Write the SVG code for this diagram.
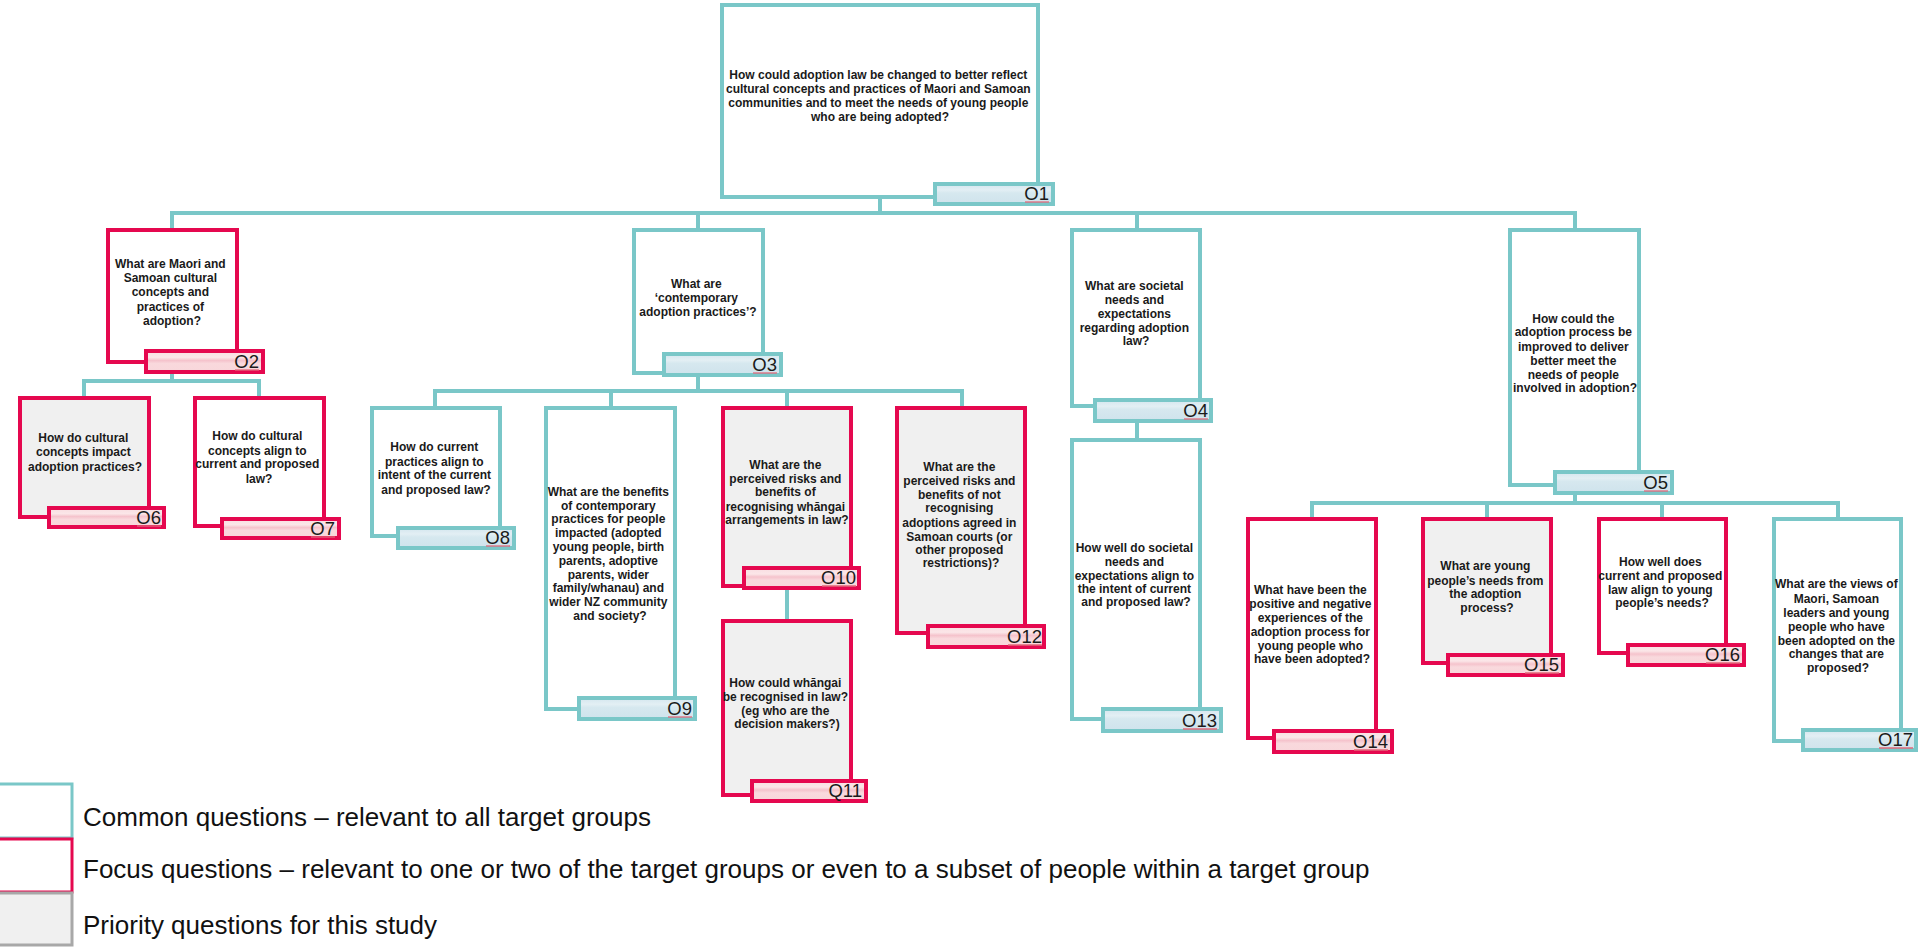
<svg xmlns="http://www.w3.org/2000/svg" width="1919" height="947" viewBox="0 0 1919 947">
  <defs>
    <linearGradient id="tagBlue" x1="0" y1="0" x2="0" y2="1">
      <stop offset="0" stop-color="#d3e6ee"/>
      <stop offset="0.3" stop-color="#e3eff4"/>
      <stop offset="0.45" stop-color="#d6e8ef"/>
      <stop offset="1" stop-color="#cfe3ec"/>
    </linearGradient>
    <linearGradient id="tagPink" x1="0" y1="0" x2="0" y2="1">
      <stop offset="0" stop-color="#f9dde1"/>
      <stop offset="0.3" stop-color="#fbe6e8"/>
      <stop offset="0.45" stop-color="#f5c3cc"/>
      <stop offset="0.6" stop-color="#f9d9dd"/>
      <stop offset="1" stop-color="#f8d6da"/>
    </linearGradient>
    <style>
      .box { fill: #ffffff; stroke-width: 4; }
      .common .box { stroke: #7ac7c8; }
      .focus .box { stroke: #e5084f; }
      .priority .box { fill: #f0f0f0; }
      .tag { stroke-width: 4; }
      .common .tag { fill: url(#tagBlue); stroke: #7ac7c8; }
      .focus .tag { fill: url(#tagPink); stroke: #e5084f; }
      .q { font-family: "Liberation Sans", Arial, sans-serif; font-size: 12px; font-weight: bold; fill: #1a1a1a; text-anchor: middle; }
      .id { font-family: "Liberation Sans", Arial, sans-serif; font-size: 18.5px; fill: #1a1a1a; text-anchor: end; }
      .spell { stroke: #e2687a; stroke-width: 1.3; }
      .link { fill: none; stroke: #7ac7c8; stroke-width: 4; }
      .legend-text { font-family: "Liberation Sans", Arial, sans-serif; font-size: 26px; fill: #111111; }
    </style>
  </defs>

  <rect width="1919" height="947" fill="#ffffff"/>

  <!-- tree connectors -->
  <g id="connectors" class="link">
    <path d="M880 197 V213"/>
    <path d="M172 230 V213 H1575 V230"/>
    <path d="M698 213 V230"/>
    <path d="M1137 213 V230"/>
    <path d="M172 374 V381"/>
    <path d="M84 398 V381 H259 V398"/>
    <path d="M698 377 V391"/>
    <path d="M435 408 V391 H962 V408"/>
    <path d="M611 391 V408"/>
    <path d="M787 391 V408"/>
    <path d="M787 590 V621"/>
    <path d="M1137 423 V440"/>
    <path d="M1575 495 V503"/>
    <path d="M1312 519 V503 H1838 V519"/>
    <path d="M1487 503 V519"/>
    <path d="M1662 503 V519"/>
  </g>

  <g id="node-O1" class="node common">
    <rect class="box" x="722" y="5" width="316" height="192"/>
    <text class="q">
      <tspan x="880" y="79">How could adoption law be changed to better reflect</tspan>
      <tspan x="880" y="93">cultural concepts and practices of Maori and Samoan</tspan>
      <tspan x="880" y="107">communities and to meet the needs of young people</tspan>
      <tspan x="880" y="121">who are being adopted?</tspan>
    </text>
    <rect class="tag" x="935" y="184" width="118" height="20"/>
    <text class="id" x="1049" y="200">O1</text>
    <line class="spell" x1="1025" y1="202" x2="1049" y2="202"/>
  </g>

  <g id="node-O2" class="node focus">
    <rect class="box" x="108" y="230" width="129" height="132"/>
    <text class="q">
      <tspan x="172" y="268">What are Maori and</tspan>
      <tspan x="172" y="282">Samoan cultural</tspan>
      <tspan x="172" y="296">concepts and</tspan>
      <tspan x="172" y="311">practices of</tspan>
      <tspan x="172" y="325">adoption?</tspan>
    </text>
    <rect class="tag" x="146" y="351" width="117" height="21"/>
    <text class="id" x="259" y="368">O2</text>
    <line class="spell" x1="235" y1="370" x2="259" y2="370"/>
  </g>

  <g id="node-O3" class="node common">
    <rect class="box" x="634" y="230" width="129" height="143"/>
    <text class="q">
      <tspan x="698" y="288">What are</tspan>
      <tspan x="698" y="302">‘contemporary</tspan>
      <tspan x="698" y="316">adoption practices’?</tspan>
    </text>
    <rect class="tag" x="664" y="354" width="117" height="21"/>
    <text class="id" x="777" y="371">O3</text>
    <line class="spell" x1="753" y1="373" x2="777" y2="373"/>
  </g>

  <g id="node-O4" class="node common">
    <rect class="box" x="1072" y="230" width="128" height="176"/>
    <text class="q">
      <tspan x="1136" y="290">What are societal</tspan>
      <tspan x="1136" y="304">needs and</tspan>
      <tspan x="1136" y="318">expectations</tspan>
      <tspan x="1136" y="332">regarding adoption</tspan>
      <tspan x="1136" y="345">law?</tspan>
    </text>
    <rect class="tag" x="1095" y="400" width="116" height="21"/>
    <text class="id" x="1208" y="417">O4</text>
    <line class="spell" x1="1184" y1="419" x2="1208" y2="419"/>
  </g>

  <g id="node-O5" class="node common">
    <rect class="box" x="1510" y="230" width="129" height="255"/>
    <text class="q">
      <tspan x="1575" y="323">How could the</tspan>
      <tspan x="1575" y="336">adoption process be</tspan>
      <tspan x="1575" y="351">improved to deliver</tspan>
      <tspan x="1575" y="365">better meet the</tspan>
      <tspan x="1575" y="379">needs of people</tspan>
      <tspan x="1575" y="392">involved in adoption?</tspan>
    </text>
    <rect class="tag" x="1555" y="472" width="117" height="21"/>
    <text class="id" x="1668" y="489">O5</text>
    <line class="spell" x1="1644" y1="491" x2="1668" y2="491"/>
  </g>

  <g id="node-O6" class="node focus priority">
    <rect class="box" x="20" y="398" width="129" height="119"/>
    <text class="q">
      <tspan x="85" y="442">How do cultural</tspan>
      <tspan x="85" y="456">concepts impact</tspan>
      <tspan x="85" y="471">adoption practices?</tspan>
    </text>
    <rect class="tag" x="49" y="508" width="115" height="19"/>
    <text class="id" x="161" y="524">O6</text>
    <line class="spell" x1="137" y1="526" x2="161" y2="526"/>
  </g>

  <g id="node-O7" class="node focus">
    <rect class="box" x="195" y="398" width="129" height="128"/>
    <text class="q">
      <tspan x="259" y="440">How do cultural</tspan>
      <tspan x="259" y="455">concepts align to</tspan>
      <tspan x="259" y="468">current and proposed</tspan>
      <tspan x="259" y="483">law?</tspan>
    </text>
    <rect class="tag" x="222" y="519" width="117" height="19"/>
    <text class="id" x="335" y="535">O7</text>
    <line class="spell" x1="311" y1="537" x2="335" y2="537"/>
  </g>

  <g id="node-O8" class="node common">
    <rect class="box" x="372" y="408" width="128" height="128"/>
    <text class="q">
      <tspan x="436" y="451">How do current</tspan>
      <tspan x="436" y="466">practices align to</tspan>
      <tspan x="436" y="479">intent  of the current</tspan>
      <tspan x="436" y="494">and proposed law?</tspan>
    </text>
    <rect class="tag" x="398" y="528" width="116" height="20"/>
    <text class="id" x="510" y="544">O8</text>
    <line class="spell" x1="486" y1="546" x2="510" y2="546"/>
  </g>

  <g id="node-O9" class="node common">
    <rect class="box" x="546" y="408" width="129" height="301"/>
    <text class="q">
      <tspan x="610" y="496">What are the benefits</tspan>
      <tspan x="610" y="510">of contemporary</tspan>
      <tspan x="610" y="523">practices for people</tspan>
      <tspan x="610" y="537">impacted (adopted</tspan>
      <tspan x="610" y="551">young people, birth</tspan>
      <tspan x="610" y="565">parents, adoptive</tspan>
      <tspan x="610" y="579">parents, wider</tspan>
      <tspan x="610" y="592">family/whanau) and</tspan>
      <tspan x="610" y="606">wider NZ community</tspan>
      <tspan x="610" y="620">and society?</tspan>
    </text>
    <rect class="tag" x="579" y="698" width="116" height="21"/>
    <text class="id" x="692" y="715">O9</text>
    <line class="spell" x1="668" y1="717" x2="692" y2="717"/>
  </g>

  <g id="node-O10" class="node focus priority">
    <rect class="box" x="723" y="408" width="128" height="178"/>
    <text class="q">
      <tspan x="787" y="469">What are the</tspan>
      <tspan x="787" y="483">perceived risks and</tspan>
      <tspan x="787" y="496">benefits of</tspan>
      <tspan x="787" y="511">recognising whāngai</tspan>
      <tspan x="787" y="524">arrangements in law?</tspan>
    </text>
    <rect class="tag" x="744" y="568" width="115" height="20"/>
    <text class="id" x="856" y="584">O10</text>
    <line class="spell" x1="822" y1="586" x2="856" y2="586"/>
  </g>

  <g id="node-O11" class="node focus priority">
    <rect class="box" x="723" y="621" width="128" height="174"/>
    <text class="q">
      <tspan x="787" y="687">How could whāngai</tspan>
      <tspan x="787" y="701">be recognised in law?</tspan>
      <tspan x="787" y="715">(eg who are the</tspan>
      <tspan x="787" y="728">decision makers?)</tspan>
    </text>
    <rect class="tag" x="752" y="781" width="114" height="20"/>
    <text class="id" x="862" y="797">Q11</text>
  </g>

  <g id="node-O12" class="node focus priority">
    <rect class="box" x="897" y="408" width="128" height="225"/>
    <text class="q">
      <tspan x="961" y="471">What are the</tspan>
      <tspan x="961" y="485">perceived risks and</tspan>
      <tspan x="961" y="499">benefits of not</tspan>
      <tspan x="961" y="512">recognising</tspan>
      <tspan x="961" y="527">adoptions agreed in</tspan>
      <tspan x="961" y="541">Samoan courts (or</tspan>
      <tspan x="961" y="554">other proposed</tspan>
      <tspan x="961" y="567">restrictions)?</tspan>
    </text>
    <rect class="tag" x="928" y="626" width="116" height="21"/>
    <text class="id" x="1042" y="643">O12</text>
    <line class="spell" x1="1008" y1="645" x2="1042" y2="645"/>
  </g>

  <g id="node-O13" class="node common">
    <rect class="box" x="1072" y="440" width="128" height="279"/>
    <text class="q">
      <tspan x="1136" y="552">How well do societal</tspan>
      <tspan x="1136" y="566">needs and</tspan>
      <tspan x="1136" y="580">expectations align to</tspan>
      <tspan x="1136" y="593">the intent of current</tspan>
      <tspan x="1136" y="606">and proposed law?</tspan>
    </text>
    <rect class="tag" x="1103" y="709" width="118" height="22"/>
    <text class="id" x="1217" y="727">O13</text>
    <line class="spell" x1="1183" y1="729" x2="1217" y2="729"/>
  </g>

  <g id="node-O14" class="node focus">
    <rect class="box" x="1248" y="519" width="128" height="219"/>
    <text class="q">
      <tspan x="1312" y="594">What have been the</tspan>
      <tspan x="1312" y="608">positive and negative</tspan>
      <tspan x="1312" y="622">experiences of the</tspan>
      <tspan x="1312" y="636">adoption process for</tspan>
      <tspan x="1312" y="650">young people who</tspan>
      <tspan x="1312" y="663">have been adopted?</tspan>
    </text>
    <rect class="tag" x="1274" y="731" width="118" height="21"/>
    <text class="id" x="1388" y="748">O14</text>
    <line class="spell" x1="1354" y1="750" x2="1388" y2="750"/>
  </g>

  <g id="node-O15" class="node focus priority">
    <rect class="box" x="1423" y="519" width="128" height="144"/>
    <text class="q">
      <tspan x="1487" y="570">What are young</tspan>
      <tspan x="1487" y="585">people’s needs from</tspan>
      <tspan x="1487" y="598">the adoption</tspan>
      <tspan x="1487" y="612">process?</tspan>
    </text>
    <rect class="tag" x="1448" y="655" width="115" height="20"/>
    <text class="id" x="1559" y="671">O15</text>
    <line class="spell" x1="1525" y1="673" x2="1559" y2="673"/>
  </g>

  <g id="node-O16" class="node focus">
    <rect class="box" x="1599" y="519" width="127" height="134"/>
    <text class="q">
      <tspan x="1662" y="566">How well does</tspan>
      <tspan x="1662" y="580">current and proposed</tspan>
      <tspan x="1662" y="594">law align to young</tspan>
      <tspan x="1662" y="607">people’s needs?</tspan>
    </text>
    <rect class="tag" x="1628" y="645" width="116" height="20"/>
    <text class="id" x="1740" y="661">O16</text>
    <line class="spell" x1="1706" y1="663" x2="1740" y2="663"/>
  </g>

  <g id="node-O17" class="node common">
    <rect class="box" x="1774" y="519" width="127" height="222"/>
    <text class="q">
      <tspan x="1838" y="588">What are the views of</tspan>
      <tspan x="1838" y="603">Maori, Samoan</tspan>
      <tspan x="1838" y="617">leaders and young</tspan>
      <tspan x="1838" y="631">people who have</tspan>
      <tspan x="1838" y="645">been adopted on the</tspan>
      <tspan x="1838" y="658">changes that are</tspan>
      <tspan x="1838" y="672">proposed?</tspan>
    </text>
    <rect class="tag" x="1803" y="730" width="113" height="20"/>
    <text class="id" x="1913" y="746">O17</text>
    <line class="spell" x1="1879" y1="748" x2="1913" y2="748"/>
  </g>

  <!-- key to the three box styles -->
  <g id="legend">
    <rect x="-10" y="784" width="82" height="54" fill="#ffffff" stroke="#7ac7c8" stroke-width="3"/>
    <rect x="-10" y="839" width="82" height="53" fill="#ffffff" stroke="#e5084f" stroke-width="3"/>
    <rect x="-10" y="893" width="82" height="52" fill="#f0f0f0" stroke="#a8a8a8" stroke-width="3"/>
    <text class="legend-text" x="83" y="826">Common questions – relevant to all target groups</text>
    <text class="legend-text" x="83" y="878">Focus questions – relevant to one or two of the target groups or even to a subset of people within a target group</text>
    <text class="legend-text" x="83" y="934">Priority questions for this study</text>
  </g>
</svg>
